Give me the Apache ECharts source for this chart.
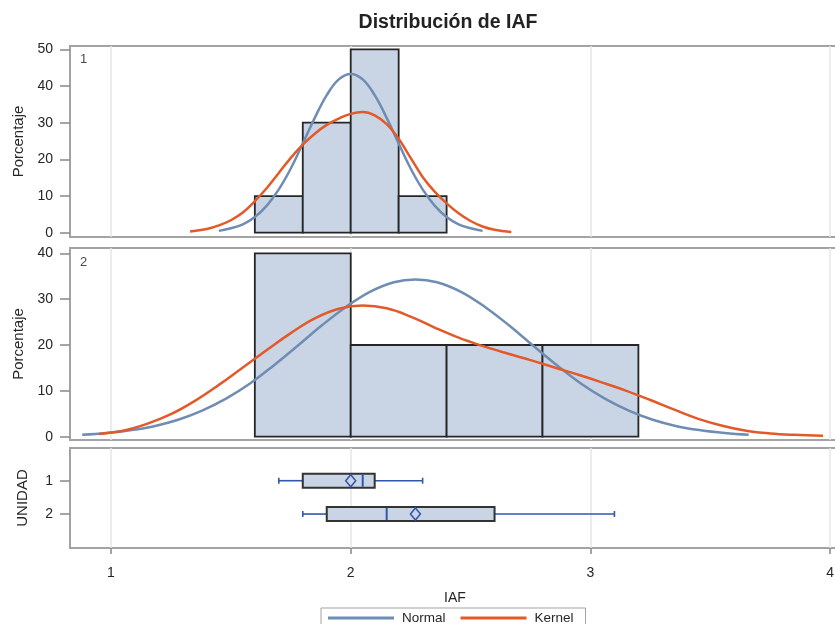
<!DOCTYPE html>
<html><head><meta charset="utf-8">
<script src="https://cdn.jsdelivr.net/npm/echarts@6/dist/echarts.min.js"></script>
<style>html,body{margin:0;padding:0;background:#fff;overflow:hidden}#c{width:842px;height:624px}</style>
</head><body><div id="c"></div>
<script>
const FONT = '"Liberation Sans", Arial, sans-serif';
const titleText = 'Distribución de IAF';
const xTicks = [1, 2, 3, 4];
const yTicks1 = [0, 10, 20, 30, 40, 50];
const yTicks2 = [0, 10, 20, 30, 40];
const unidades = ['1', '2'];

// Histogram UNIDAD 1 (percent per bin)
const bin1Lo = [1.6, 1.8, 2.0, 2.2];
const bin1Hi = [1.8, 2.0, 2.2, 2.4];
const pct1 = [10, 30, 50, 10];
// Histogram UNIDAD 2
const bin2Lo = [1.6, 2.0, 2.4, 2.8];
const bin2Hi = [2.0, 2.4, 2.8, 3.2];
const pct2 = [40, 20, 20, 20];

// Curves [IAF, Porcentaje]
const normal1 = [[1.45,0.5],[1.50,1.2],[1.55,2.3],[1.60,4.3],[1.65,7.4],[1.70,11.8],[1.75,17.5],[1.80,24.3],[1.85,31.3],[1.90,37.5],[1.95,41.8],[2.00,43.3],[2.05,41.8],[2.10,37.5],[2.15,31.3],[2.20,24.3],[2.25,17.5],[2.30,11.8],[2.35,7.4],[2.40,4.3],[2.45,2.3],[2.50,1.2],[2.55,0.5]];
const kernel1 = [[1.33,0.3],[1.40,1.0],[1.45,2.0],[1.50,3.4],[1.55,5.5],[1.60,8.6],[1.65,12.2],[1.70,16.3],[1.75,20.4],[1.80,24.0],[1.85,27.0],[1.90,29.4],[1.95,31.1],[2.00,32.4],[2.05,32.9],[2.10,32.0],[2.15,29.6],[2.20,25.6],[2.25,20.4],[2.30,15.2],[2.35,11.2],[2.40,8.0],[2.45,5.3],[2.50,3.2],[2.55,1.7],[2.60,0.8],[2.67,0.2]];
const normal2 = [[0.88,0.4],[0.98,0.8],[1.08,1.4],[1.18,2.3],[1.28,3.7],[1.38,5.7],[1.48,8.3],[1.58,11.6],[1.68,15.6],[1.78,19.9],[1.88,24.3],[1.98,28.3],[2.08,31.6],[2.18,33.7],[2.27,34.3],[2.36,33.7],[2.46,31.6],[2.56,28.3],[2.66,24.3],[2.76,19.9],[2.86,15.6],[2.96,11.6],[3.06,8.3],[3.16,5.7],[3.26,3.7],[3.36,2.3],[3.46,1.4],[3.56,0.8],[3.66,0.4]];
const kernel2 = [[0.95,0.6],[1.05,1.3],[1.15,2.8],[1.25,4.9],[1.35,7.8],[1.45,11.3],[1.55,15.1],[1.65,18.9],[1.75,22.6],[1.85,25.8],[1.95,27.9],[2.05,28.6],[2.15,28.0],[2.25,26.2],[2.35,23.8],[2.45,21.6],[2.55,19.8],[2.65,18.2],[2.75,16.7],[2.85,15.1],[2.95,13.5],[3.05,11.8],[3.15,10.0],[3.25,8.0],[3.35,5.9],[3.45,3.9],[3.55,2.4],[3.65,1.3],[3.75,0.7],[3.85,0.4],[3.97,0.2]];

// Box plot statistics per UNIDAD
const boxMin = [1.70, 1.80];
const boxQ1 = [1.80, 1.90];
const boxMed = [2.05, 2.15];
const boxQ3 = [2.10, 2.60];
const boxMax = [2.30, 3.10];
const boxMean = [2.00, 2.27];

const C_BAR = '#c9d4e5', C_EDGE = '#262626', C_NORMAL = '#6f8cb3', C_KERNEL = '#e35a2a', C_BOX = '#3157ad';
const TXT = '#262626';

const chart = echarts.init(document.getElementById('c'), null, {renderer: 'canvas'});

function histItem(params, api) {
  const p0 = api.coord([api.value(0), api.value(2)]);
  const p1 = api.coord([api.value(1), 0]);
  return {type: 'rect', shape: {x: p0[0], y: p0[1], width: p1[0] - p0[0], height: p1[1] - p0[1]},
    style: {fill: C_BAR, stroke: C_EDGE, lineWidth: 1.8}};
}
function boxItem(params, api) {
  const y = api.value(0);
  const pMin = api.coord([api.value(1), y]);
  const pQ1 = api.coord([api.value(2), y]);
  const pMed = api.coord([api.value(3), y]);
  const pQ3 = api.coord([api.value(4), y]);
  const pMax = api.coord([api.value(5), y]);
  const pMean = api.coord([api.value(6), y]);
  const cy = pMin[1];
  const h = api.size([0, 0.42])[1];
  const ls = {stroke: C_BOX, lineWidth: 1.6};
  return {type: 'group', children: [
    {type: 'line', shape: {x1: pMin[0], y1: cy, x2: pQ1[0], y2: cy}, style: ls},
    {type: 'line', shape: {x1: pQ3[0], y1: cy, x2: pMax[0], y2: cy}, style: ls},
    {type: 'line', shape: {x1: pMin[0], y1: cy - 3, x2: pMin[0], y2: cy + 3}, style: ls},
    {type: 'line', shape: {x1: pMax[0], y1: cy - 3, x2: pMax[0], y2: cy + 3}, style: ls},
    {type: 'rect', shape: {x: pQ1[0], y: cy - h / 2, width: pQ3[0] - pQ1[0], height: h},
      style: {fill: C_BAR, stroke: '#333', lineWidth: 2}},
    {type: 'line', shape: {x1: pMed[0], y1: cy - h / 2 + 1, x2: pMed[0], y2: cy + h / 2 - 1}, style: {stroke: C_BOX, lineWidth: 2}},
    {type: 'polygon', shape: {points: [[pMean[0], cy - 6], [pMean[0] + 5, cy], [pMean[0], cy + 6], [pMean[0] - 5, cy]]},
      style: {fill: 'none', stroke: C_BOX, lineWidth: 1.5}}
  ]};
}

const gridBase = {left: 70, width: 770, show: true, borderColor: '#a3a3a3', borderWidth: 2, backgroundColor: '#fff'};
const xBase = (i, showLabels) => ({
  type: 'value', gridIndex: i, min: 0.829, max: 4.041,
  axisLine: {show: false},
  axisTick: {show: showLabels, customValues: xTicks, length: 6, lineStyle: {color: '#888', width: 1.5}},
  axisLabel: {show: showLabels, customValues: xTicks, fontSize: 14, color: TXT, margin: 18, fontFamily: FONT},
  splitLine: {show: true, lineStyle: {color: '#e6e6e6', width: 1.5}},
  name: showLabels ? 'IAF' : '', nameLocation: 'middle', nameGap: 43,
  nameTextStyle: {fontSize: 14, color: TXT, fontFamily: FONT}
});
const yBase = (i, min, max, ticks, name, extra) => Object.assign({
  type: 'value', gridIndex: i, min: min, max: max,
  axisLine: {show: false},
  axisTick: {show: true, customValues: ticks, length: 10, lineStyle: {color: '#888', width: 1.5}},
  axisLabel: {customValues: ticks, fontSize: 14, color: TXT, margin: 17, fontFamily: FONT},
  splitLine: {show: false},
  name: name, nameLocation: 'middle', nameGap: 40,
  nameTextStyle: {fontSize: 15, color: TXT, fontFamily: FONT}
}, extra || {});

const option = {
  animation: false,
  backgroundColor: '#fff',
  title: {text: titleText, left: 443, top: 8, textAlign: 'center',
    textStyle: {fontSize: 19.5, fontWeight: 'bold', color: '#222', fontFamily: FONT}},
  legend: {data: [{name: 'Normal', icon: 'rect'}, {name: 'Kernel', icon: 'rect'}],
    left: 321, top: 608, padding: [3, 12, 3, 7], itemWidth: 66, itemHeight: 3, itemGap: 15,
    borderColor: '#a3a3a3', borderWidth: 1,
    textStyle: {fontSize: 13.5, color: TXT, fontFamily: FONT, padding: [0, 0, 0, 3]}},
  grid: [
    Object.assign({top: 46, height: 191}, gridBase),
    Object.assign({top: 248, height: 192}, gridBase),
    Object.assign({top: 448, height: 100}, gridBase)
  ],
  xAxis: [xBase(0, false), xBase(1, false), xBase(2, true)],
  yAxis: [
    yBase(0, -1.17, 50.9, yTicks1, 'Porcentaje'),
    yBase(1, -0.72, 41.16, yTicks2, 'Porcentaje'),
    yBase(2, 0.018, 3.02, [1, 2], 'UNIDAD', {inverse: true,
      axisLabel: {customValues: [1, 2], fontSize: 14, color: TXT, margin: 17, fontFamily: FONT,
        formatter: v => unidades[v - 1]}})
  ],
  graphic: [
    {type: 'text', left: 80, top: 53, style: {text: '1', fontSize: 13, fill: '#4a4a4a', fontFamily: FONT}, z: 100},
    {type: 'text', left: 80, top: 256, style: {text: '2', fontSize: 13, fill: '#4a4a4a', fontFamily: FONT}, z: 100}
  ],
  series: [
    {type: 'custom', xAxisIndex: 0, yAxisIndex: 0, renderItem: histItem, encode: {x: [0, 1], y: 2},
      data: pct1.map((p, i) => [bin1Lo[i], bin1Hi[i], p])},
    {type: 'custom', xAxisIndex: 1, yAxisIndex: 1, renderItem: histItem, encode: {x: [0, 1], y: 2},
      data: pct2.map((p, i) => [bin2Lo[i], bin2Hi[i], p])},
    {name: 'Normal', type: 'line', xAxisIndex: 0, yAxisIndex: 0, data: normal1, smooth: 0.4, symbol: 'none',
      color: C_NORMAL, lineStyle: {color: C_NORMAL, width: 2.5}, z: 5},
    {name: 'Kernel', type: 'line', xAxisIndex: 0, yAxisIndex: 0, data: kernel1, smooth: 0.4, symbol: 'none',
      color: C_KERNEL, lineStyle: {color: C_KERNEL, width: 2.5}, z: 6},
    {name: 'Normal', type: 'line', xAxisIndex: 1, yAxisIndex: 1, data: normal2, smooth: 0.4, symbol: 'none',
      color: C_NORMAL, lineStyle: {color: C_NORMAL, width: 2.5}, z: 5},
    {name: 'Kernel', type: 'line', xAxisIndex: 1, yAxisIndex: 1, data: kernel2, smooth: 0.4, symbol: 'none',
      color: C_KERNEL, lineStyle: {color: C_KERNEL, width: 2.5}, z: 6},
    {type: 'custom', xAxisIndex: 2, yAxisIndex: 2, renderItem: boxItem, encode: {x: [1, 2, 3, 4, 5, 6], y: 0},
      data: unidades.map((u, i) => [i + 1, boxMin[i], boxQ1[i], boxMed[i], boxQ3[i], boxMax[i], boxMean[i]])}
  ]
};
chart.setOption(option);
</script>
</body></html>
